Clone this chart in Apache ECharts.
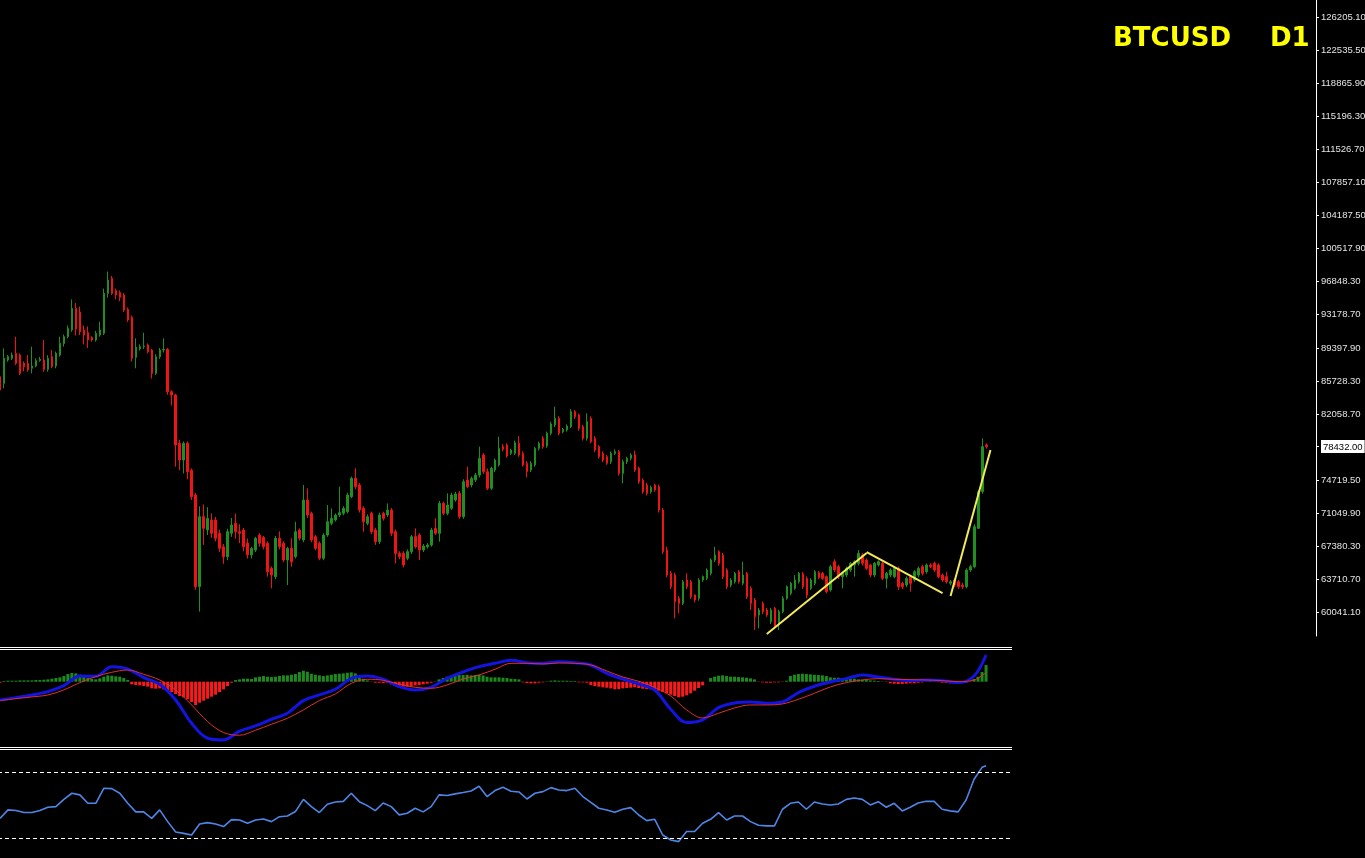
<!DOCTYPE html>
<html><head><meta charset="utf-8">
<script src="https://cdn.jsdelivr.net/npm/echarts@6/dist/echarts.min.js"></script>
<style>html,body{margin:0;padding:0;background:#000;}#c{width:1365px;height:858px;}</style>
</head><body><div id="c"></div>
<script>
// ---- BTCUSD D1 candles (index 0..247) ----
const open = [86210,85470,88060,88250,88800,88620,87700,87690,87140,87400,
88000,88060,87020,88430,87400,88620,89900,90660,91400,93800,
93400,91400,91100,90580,90290,90850,91030,95480,97150,95770,
95550,95290,93700,92810,88360,89300,89550,89730,89170,86580,
88430,89170,89250,84540,84170,78800,76940,78800,75800,73050,
62860,70640,69160,70270,70270,68790,67300,66190,68790,69900,
68970,69160,67700,66380,66930,68600,68330,67680,64900,63970,
68230,67680,65820,67120,66190,69160,68050,72490,71000,68420,
67680,66010,68600,69900,70270,70830,71010,71200,72860,74900,
74160,71570,69900,71010,69160,67860,71010,70830,71380,68970,
66560,66560,66010,66750,68420,68600,66930,67300,67490,69340,
68790,72120,71010,71570,72490,73240,70640,74720,74160,74720,
75270,77500,75640,73800,75830,76390,78430,78610,77680,77680,
78800,77680,76570,75830,76390,78240,79350,78500,79910,80840,
81580,80090,80280,80650,82320,81950,80650,79350,81580,79350,
78430,77680,77310,76760,77680,77870,75460,76760,77130,77500,
76020,74720,74160,73420,74160,73980,71380,66930,64340,64150,
61560,61000,63600,63410,61930,61560,63600,63780,64340,65820,
66750,66380,64710,63040,63410,64520,63230,64340,62670,61370,
59710,61000,60260,58960,60450,58780,60080,61560,62120,62670,
63410,64270,63780,62670,63230,64410,64340,63970,62490,65640,
65080,63970,64150,64710,65270,65450,66380,65820,65270,64150,
65270,65450,63780,64150,63970,64900,63230,63040,63970,63600,
64150,65080,64520,65270,65450,65270,64150,63970,63230,63600,
63410,63040,62860,64710,65080,69340,73420,78610];
const close = [84730,88250,88430,88620,87700,86580,87320,86950,87400,88000,
88150,87020,88250,87320,88800,89920,90660,91580,93800,91500,
91200,90840,90290,90290,91030,91400,95480,96960,95480,95290,
95030,93620,92510,88250,89470,89550,89620,88990,86580,88430,
89170,89250,84540,84170,78610,76940,78800,75640,72860,62860,
70640,69340,70450,68790,68230,67120,66190,68970,69710,68970,
68790,67300,66400,67120,68230,67680,67300,64520,64150,68230,
67300,65820,67120,65640,68970,68230,72490,70830,68050,67120,
66010,68600,70080,70460,70830,71090,71570,73050,74900,73980,
71380,70090,70640,68970,67860,70830,70460,71380,68790,66560,
66190,65270,66750,68420,67300,66930,67380,67490,69160,68790,
72120,71010,71940,73050,73160,70640,74530,73980,74900,75270,
77130,75640,73800,76020,76940,78240,78130,77390,78050,78870,
77500,76390,75650,76570,78240,78800,78430,79910,80950,81580,
79910,80350,80720,82320,81760,80460,79350,81210,78980,78060,
77310,76940,76570,77680,77870,75460,76760,77130,77500,75830,
74530,73420,73240,73900,73610,71380,66750,64150,62860,61190,
61000,63410,62860,61740,61370,63600,63970,64710,65820,66380,
65450,63970,62860,63600,64340,63410,64150,61740,61000,59520,
60260,60080,59710,60260,58410,60080,61560,62860,63230,63600,
64340,62860,61930,63600,64520,63890,63780,62300,65080,64710,
63970,64340,64900,65450,65640,66560,65450,64900,64150,65450,
65640,63780,64340,64710,64900,62860,62860,63780,63230,64520,
64900,64340,65270,65080,64710,63970,63600,63410,63410,63040,
62860,62860,64710,65080,69530,73420,78430,78432];
const low = [84540,84910,87880,88060,87500,86390,86800,86760,86580,87250,
87880,86760,86760,87140,87140,88430,89550,90470,91200,90800,
90840,89800,89400,90100,90100,90660,90840,95000,95300,94800,
94600,93400,92300,87900,87140,89100,89300,88800,86000,86400,
88200,88900,84200,83000,76200,75800,75450,74800,72500,62500,
60080,67500,68600,68300,67900,66700,65400,65800,68400,68200,
67700,66800,66000,66000,66700,67300,67000,63970,62670,63700,
67000,65600,63040,65080,66000,68000,67800,70500,67800,66900,
65800,65800,68400,69700,70100,70600,70800,71000,72700,73700,
71100,68970,69700,68700,67500,67600,70200,70600,68500,65450,
65900,65000,65800,66500,67100,65820,66700,67100,67300,68600,
67860,70800,70800,71400,72300,70400,70400,73800,73900,74500,
75000,75400,73600,73600,75600,76200,77900,77200,77500,77500,
77300,76200,75010,75600,76200,78000,78200,78300,79700,80600,
79700,79900,80100,80500,81500,80200,79100,79100,78800,77800,
77100,76700,76400,76500,77500,75200,74350,76500,76900,75600,
74300,73200,73000,73200,73400,71100,66500,63900,62600,59330,
59890,60800,62600,61500,61100,61300,63400,63600,64100,65600,
65200,63700,62600,62800,63200,63200,63000,61500,60260,58040,
58220,59800,59500,58700,58200,58040,59900,61400,61900,62500,
63200,62600,61560,62500,63000,63700,63600,62100,62300,64500,
63700,62670,63900,64500,63970,65200,65200,64700,63900,63900,
65100,63600,62670,63900,63800,62490,62600,62800,62300,63400,
63900,64100,64300,64900,64500,63800,63400,63200,63000,62800,
62600,62600,62670,64500,64900,69300,73200,78200];
const high = [86390,89360,88620,88900,90650,88800,87900,88620,89550,88250,
88400,90290,88600,89170,89000,90650,90900,91900,94800,94400,
94000,91900,91800,90700,91300,92330,96000,97890,97400,96000,
95800,95500,93900,93000,90470,89800,91100,89900,89300,88700,
89400,90470,89400,84700,84300,79200,79000,79000,76000,73300,
71800,72000,71700,71000,70600,69200,67600,69300,70500,71000,
69800,69400,68200,67300,68400,68800,68500,67900,65100,68500,
69000,67900,67300,68230,70080,69340,74160,73790,71200,68600,
67900,68800,71940,71570,71000,73980,71800,73300,75100,76020,
74400,71800,70900,71200,69400,71100,71200,72120,71600,69200,
66800,66800,67000,68600,69340,68800,67600,67700,69400,70460,
72400,72300,73240,73300,73400,73500,74800,76200,75100,75500,
78430,77700,76000,76200,77100,79540,78700,78800,78200,79100,
79610,77900,76800,76800,78400,79000,79600,80100,81200,82870,
81800,80500,80900,82600,82500,82100,80850,82130,81800,79600,
78600,77900,77500,77900,78130,78050,77000,77300,77700,77980,
76200,74900,74400,74100,74300,74200,71600,67300,64600,64400,
61800,63600,64340,63600,62000,63800,64100,64900,66000,67300,
66900,66600,64900,63800,64500,64700,65640,64500,62900,61600,
60500,61200,60500,60500,60600,60300,61800,63000,63400,64150,
64500,64500,64000,63800,64700,64600,64500,64100,65300,65900,
65300,64500,65100,65600,65800,66930,66600,66000,65400,65600,
65800,65600,64500,64900,65100,65100,63400,64000,64100,64700,
65100,65300,65450,65450,65640,65450,64300,64520,63600,63800,
63600,63300,64900,65300,69800,73600,79350,78800];

// ---- MACD lines, read every 4th bar (last point = bar 247) ----
const macdLine = [-1824,-1591,-1325,-992,-392,574,540,1506,1273,407,-259,-1824,-4155,-5654,-5820,-4954,-4421,-3755,-3156,-1891,-1325,-759,341,574,241,-492,-825,-559,341,973,1506,1839,
2139,1906,1839,2006,1906,1672,840,274,-226,-825,-2756,-4088,-3822,-2590,-2124,-2024,-2157,-2024,-1091,-459,-26,307,674,474,241,107,174,107,-92,574,
2671];
const signalLine = [-1891,-1691,-1524,-1325,-825,-92,507,940,1173,740,174,-825,-2324,-3989,-5087,-5354,-4854,-4255,-3656,-2823,-1891,-1225,-159,241,141,-259,-559,-659,-326,274,674,1240,
1839,1839,1772,1872,1839,1672,1073,474,41,-559,-1424,-2823,-3622,-3156,-2623,-2324,-2324,-2224,-1757,-1158,-525,-92,174,307,241,207,174,107,8,174,
907];
// ---- MACD histogram, every bar ----
const macdHist = [-100,67,100,100,100,133,133,133,133,167,
167,200,233,300,366,433,566,766,866,833,
699,500,366,266,233,333,500,633,600,533,
500,366,167,-266,-333,-366,-433,-500,-666,-699,
-666,-766,-833,-1032,-1232,-1432,-1565,-1765,-2031,-2331,
-2098,-1898,-1698,-1499,-1299,-1032,-766,-433,-100,167,
233,300,300,266,433,500,566,500,466,500,
566,633,633,699,766,966,1099,999,799,699,
633,566,633,699,766,799,833,899,932,833,
566,300,133,-33,-100,-100,-133,-100,-266,-433,
-500,-500,-500,-466,-366,-333,-266,-200,-100,33,
233,366,500,566,633,666,666,699,633,666,
699,633,500,433,433,433,400,366,300,266,
233,-67,-133,-167,-167,-100,-67,33,100,133,
100,100,100,67,67,-67,-67,-100,-333,-433,
-500,-566,-600,-666,-766,-733,-666,-633,-600,-566,
-633,-699,-733,-766,-833,-899,-1032,-1166,-1299,-1432,
-1565,-1499,-1365,-1166,-899,-633,-366,0,366,500,
600,633,566,500,500,466,433,400,333,233,
-33,-67,-100,-100,-67,-67,-33,100,566,699,
766,799,766,733,699,666,633,566,433,400,
400,366,366,333,300,233,200,167,133,100,
67,33,-33,-167,-200,-233,-233,-200,-167,-167,
-100,-67,33,67,33,-33,-100,-133,-167,-167,
-167,-133,-100,-33,266,500,966,1665];
// ---- RSI, read every 2nd bar (last point = bar 247) ----
const rsiLine = [42.1,47.2,46.8,45.6,45.6,46.8,48.8,49.2,53.6,57.3,
56.3,51.2,51.2,60.3,60.1,57.3,51.2,46,46,42.1,
47.2,40.1,33.8,33,32,38.7,39.5,38.7,37.1,41.3,
41.1,39.1,41.1,41.7,40.1,43.1,43.5,46.2,53.6,49.2,
45.6,50.6,52,52.4,57.3,52.2,49.8,46.8,51.4,49.2,
44.2,45.2,48.2,46,49.2,56.3,55.9,56.9,57.7,58.7,
61.5,55.3,58.9,60.9,58.5,58.1,53.8,57.3,58.3,60.7,
59.3,58.9,60.3,55.3,51.8,48.2,47.2,45.8,47.6,48.6,
44.1,40.7,41.5,32,29,28,34.1,34.1,39.1,41.5,
45.6,41.1,43.5,43.5,40.1,37.9,37.5,37.5,47.6,51.2,
52,47.6,52,50.8,50.2,50.8,53.6,54.4,53.6,50.2,
52.2,48.8,51.2,46.6,48.8,51.4,52.4,52.4,47.6,46.6,
46,53.2,65.8,73,
74];
const rsiLevels = [70, 30];

// ---- price axis tick labels ----
const priceTicks = [126205.10,122535.50,118865.90,115196.30,111526.70,107857.10,104187.50,100517.90,96848.30,93178.70,89397.90,85728.30,82058.70,74719.50,71049.90,67380.30,63710.70,60041.10];
const currentPrice = 78432.00;
// ---- user trend lines: [barIndex, price] ----
const trendLines = [[[192,57600],[217,66600]],[[217,66700],[236,62150]],[[238,61820],[248,78050]]];

const lastBar = close.length - 1;
const mainCats = Array.from({length: 330}, (_, i) => String(i));
const subCats = Array.from({length: 254}, (_, i) => String(i));
const candles = open.map((o, i) => [o, close[i], low[i], high[i]]);
const macdPts = macdLine.map((v, k) => [Math.min(k * 4, lastBar), v]);
const sigPts = signalLine.map((v, k) => [Math.min(k * 4, lastBar), v]);
const rsiPts = rsiLine.map((v, k) => [Math.min(k * 2, lastBar), v]);

const GREEN = '#1f8f1f', RED = '#ee1414';
const chart = echarts.init(document.getElementById('c'), null, {renderer: 'canvas'});
const hiddenX = (gi, data) => ({type: 'category', gridIndex: gi, data, boundaryGap: true, axisLine: {show: false}, axisTick: {show: false}, axisLabel: {show: false}, splitLine: {show: false}});
const titleStyle = {color: '#ffff00', fontSize: 26, fontWeight: 'bold', fontFamily: 'DejaVu Sans'};

chart.setOption({
  backgroundColor: '#000000',
  animation: false,
  title: [
    {text: 'BTCUSD', left: 1113, top: 26, padding: 0, textStyle: titleStyle},
    {text: 'D1', left: 1270, top: 26, padding: 0, textStyle: titleStyle}
  ],
  grid: [
    {left: -2, top: 0, right: 49, height: 636, containLabel: false, outerBoundsMode: 'none'},
    {left: -2, top: 650, right: 353, height: 96, outerBoundsMode: 'none'},
    {left: -2, top: 751, right: 353, height: 107, outerBoundsMode: 'none'}
  ],
  xAxis: [hiddenX(0, mainCats), hiddenX(1, subCats), hiddenX(2, subCats)],
  yAxis: [
    {type: 'value', gridIndex: 0, position: 'right', min: 57372, max: 128095,
      axisLine: {show: true, lineStyle: {color: '#ffffff', width: 1}},
      axisTick: {show: true, length: 3, lineStyle: {color: '#ffffff'}, customValues: priceTicks.concat([currentPrice])},
      axisLabel: {show: true, margin: 5, color: '#e4e4e4', fontSize: 9.5, fontFamily: 'Liberation Sans',
        customValues: priceTicks.concat([currentPrice]),
        formatter: v => Math.abs(v - currentPrice) < 0.01 ? '{cur|' + v.toFixed(2) + '}' : v.toFixed(2),
        rich: {cur: {backgroundColor: '#ffffff', color: '#000000', fontSize: 9.5, fontFamily: 'Liberation Sans', padding: [2, 2, 1, 2]}}},
      splitLine: {show: false}},
    {type: 'value', gridIndex: 1, min: -6430, max: 3170, show: false, splitLine: {show: false}},
    {type: 'value', gridIndex: 2, min: 18.06, max: 82.9, show: false, splitLine: {show: false}}
  ],
  series: [
    {type: 'candlestick', xAxisIndex: 0, yAxisIndex: 0, data: candles, barWidth: 2,
      itemStyle: {color: GREEN, color0: RED, borderColor: GREEN, borderColor0: RED, borderWidth: 1},
      markLine: {silent: true, symbol: ['none', 'none'], label: {show: false},
        lineStyle: {color: '#f3ea5c', width: 2, type: 'solid'},
        data: trendLines.map(l => [{coord: l[0]}, {coord: l[1]}])}},
    {type: 'bar', xAxisIndex: 1, yAxisIndex: 1, data: macdHist, barWidth: 3, z: 1,
      itemStyle: {color: p => p.value >= 0 ? '#1d8a1d' : '#ff1818'}},
    {type: 'line', xAxisIndex: 1, yAxisIndex: 1, data: macdPts, symbol: 'none', z: 2, smooth: 0.35,
      lineStyle: {color: '#1414e0', width: 3}},
    {type: 'line', xAxisIndex: 1, yAxisIndex: 1, data: sigPts, symbol: 'none', z: 3, smooth: 0.35,
      lineStyle: {color: '#e03030', width: 1}},
    {type: 'line', xAxisIndex: 2, yAxisIndex: 2, data: rsiPts, symbol: 'none', z: 3,
      lineStyle: {color: '#4f86e6', width: 1.6},
      markLine: {silent: true, symbol: ['none', 'none'], label: {show: false},
        lineStyle: {color: '#ffffff', width: 1, type: [4, 3]},
        data: rsiLevels.map(v => ({yAxis: v}))}}
  ],
  graphic: [647.5, 649.5, 747.5, 749.5].map(y => ({type: 'line', silent: true,
    shape: {x1: 0, y1: y, x2: 1012, y2: y}, style: {stroke: '#ffffff', lineWidth: 1}}))
});
</script>
</body></html>
